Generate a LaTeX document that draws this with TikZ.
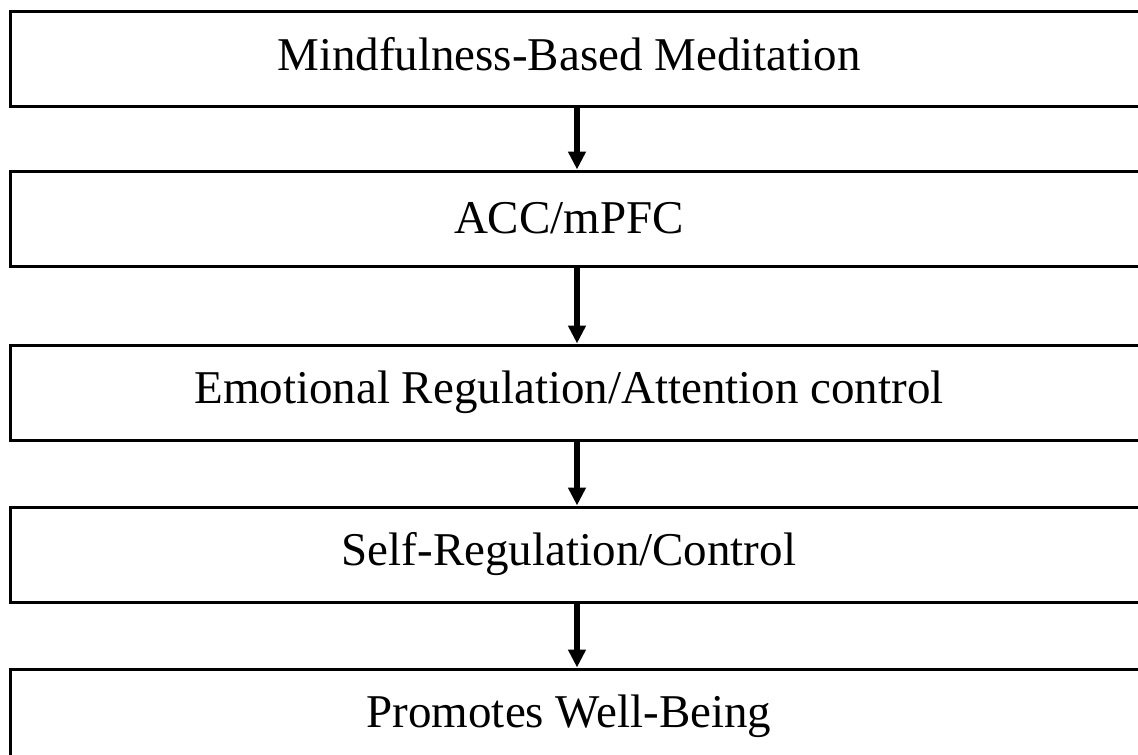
\documentclass[tikz,border=0pt]{standalone}
\usepackage{fontspec}
\setmainfont{Liberation Serif}
\usetikzlibrary{arrows.meta}
\begin{document}
\begin{tikzpicture}[x=1pt,y=-1pt,
  stagebox/.style={draw=black, line width=3pt, rectangle, minimum width=1134pt,
    minimum height=95pt, inner sep=0pt},
  stagetext/.style={inner sep=0pt, font=\fontsize{47}{56}\selectfont},
  flow/.style={line width=6pt, -{Triangle[width=17pt,length=18pt]}}]
  \useasboundingbox (0,0) rectangle (1138,755);
  \clip (0,0) rectangle (1138,755);
  % stage frames
  \node[stagebox] (b1) at (577,58.5)  {};
  \node[stagebox] (b2) at (577,218.5) {};
  \node[stagebox] (b3) at (577,392.5) {};
  \node[stagebox] (b4) at (577,554.5) {};
  \node[stagebox] (b5) at (577,716.5) {};
  % stage captions
  \node[stagetext] (t1) at ([xshift=-8pt,yshift=4pt]b1.center) {Mindfulness-Based Meditation};
  \node[stagetext] (t2) at ([xshift=-8pt]b2.center) {ACC/mPFC};
  \node[stagetext] (t3) at ([xshift=-8pt]b3.center) {Emotional Regulation/Attention control};
  \node[stagetext] (t4) at ([xshift=-8pt]b4.center) {Self-Regulation/Control};
  \node[stagetext] (t5) at ([xshift=-8pt]b5.center) {Promotes Well-Being};
  % connectors
  \draw[flow] (b1.south) -- (b2.north);
  \draw[flow] (b2.south) -- (b3.north);
  \draw[flow] (b3.south) -- (b4.north);
  \draw[flow] (b4.south) -- (b5.north);
\end{tikzpicture}
\end{document}
